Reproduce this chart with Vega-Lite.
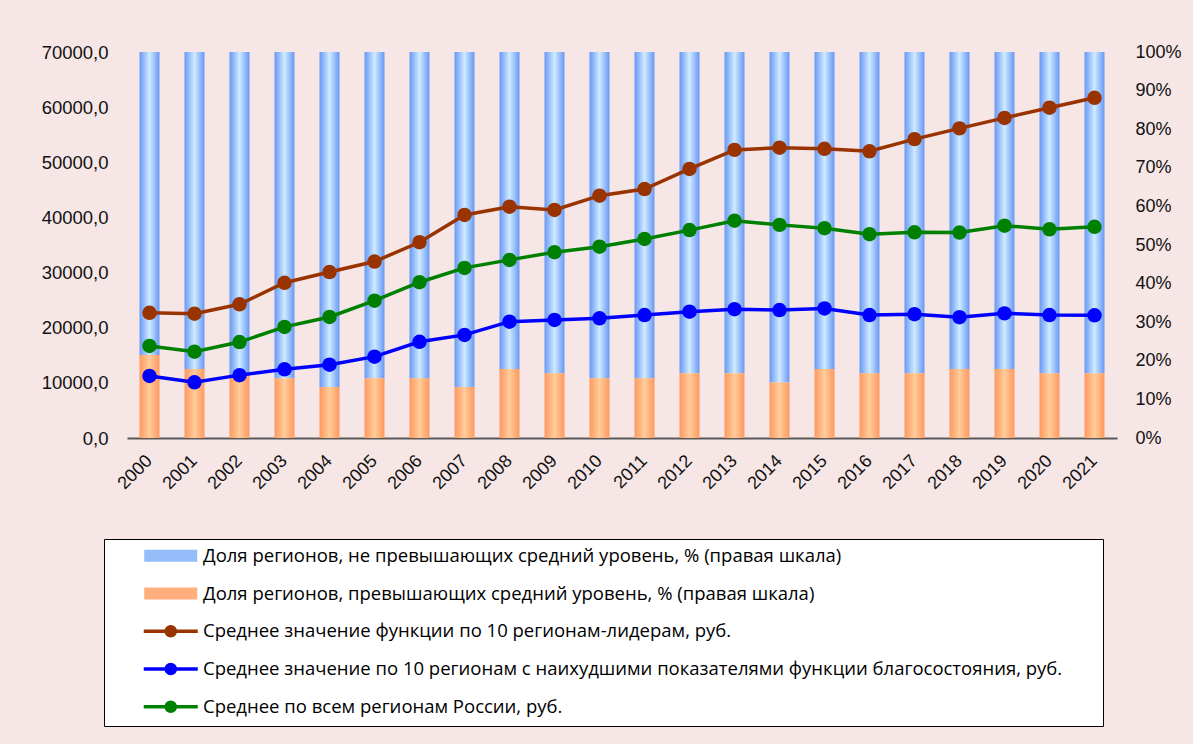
{
  "$schema": "https://vega.github.io/schema/vega-lite/v6.json",
  "width": 990,
  "height": 386,
  "autosize": "none",
  "padding": {"left": 127, "top": 52, "right": 76, "bottom": 306},
  "background": "#F6E6E6",
  "config": {
    "view": {"stroke": null},
    "font": "Liberation Sans",
    "axis": {"labelFont": "Liberation Sans", "labelColor": "#111111", "grid": false, "ticks": false, "title": null}
  },
  "datasets": {
    "bars": [
      {"year": "2000", "above": 21.5},
      {"year": "2001", "above": 17.9},
      {"year": "2002", "above": 16.0},
      {"year": "2003", "above": 15.5},
      {"year": "2004", "above": 13.2},
      {"year": "2005", "above": 15.5},
      {"year": "2006", "above": 15.5},
      {"year": "2007", "above": 13.2},
      {"year": "2008", "above": 17.9},
      {"year": "2009", "above": 16.8},
      {"year": "2010", "above": 15.5},
      {"year": "2011", "above": 15.5},
      {"year": "2012", "above": 16.8},
      {"year": "2013", "above": 16.8},
      {"year": "2014", "above": 14.4},
      {"year": "2015", "above": 17.9},
      {"year": "2016", "above": 16.8},
      {"year": "2017", "above": 16.8},
      {"year": "2018", "above": 17.9},
      {"year": "2019", "above": 17.9},
      {"year": "2020", "above": 16.8},
      {"year": "2021", "above": 16.8}
    ],
    "lines": [
      {"year": "2000", "series": "leaders", "value": 22700},
      {"year": "2001", "series": "leaders", "value": 22550},
      {"year": "2002", "series": "leaders", "value": 24250},
      {"year": "2003", "series": "leaders", "value": 28150},
      {"year": "2004", "series": "leaders", "value": 30100},
      {"year": "2005", "series": "leaders", "value": 32000},
      {"year": "2006", "series": "leaders", "value": 35500},
      {"year": "2007", "series": "leaders", "value": 40450},
      {"year": "2008", "series": "leaders", "value": 41950},
      {"year": "2009", "series": "leaders", "value": 41350},
      {"year": "2010", "series": "leaders", "value": 43950},
      {"year": "2011", "series": "leaders", "value": 45150},
      {"year": "2012", "series": "leaders", "value": 48800},
      {"year": "2013", "series": "leaders", "value": 52250},
      {"year": "2014", "series": "leaders", "value": 52650},
      {"year": "2015", "series": "leaders", "value": 52450},
      {"year": "2016", "series": "leaders", "value": 52000},
      {"year": "2017", "series": "leaders", "value": 54200},
      {"year": "2018", "series": "leaders", "value": 56150},
      {"year": "2019", "series": "leaders", "value": 58050},
      {"year": "2020", "series": "leaders", "value": 59900},
      {"year": "2021", "series": "leaders", "value": 61700},
      {"year": "2000", "series": "worst", "value": 11250},
      {"year": "2001", "series": "worst", "value": 10100},
      {"year": "2002", "series": "worst", "value": 11400},
      {"year": "2003", "series": "worst", "value": 12450},
      {"year": "2004", "series": "worst", "value": 13300},
      {"year": "2005", "series": "worst", "value": 14750},
      {"year": "2006", "series": "worst", "value": 17450},
      {"year": "2007", "series": "worst", "value": 18700},
      {"year": "2008", "series": "worst", "value": 21100},
      {"year": "2009", "series": "worst", "value": 21400},
      {"year": "2010", "series": "worst", "value": 21700},
      {"year": "2011", "series": "worst", "value": 22300},
      {"year": "2012", "series": "worst", "value": 22900},
      {"year": "2013", "series": "worst", "value": 23350},
      {"year": "2014", "series": "worst", "value": 23200},
      {"year": "2015", "series": "worst", "value": 23500},
      {"year": "2016", "series": "worst", "value": 22300},
      {"year": "2017", "series": "worst", "value": 22450},
      {"year": "2018", "series": "worst", "value": 21900},
      {"year": "2019", "series": "worst", "value": 22600},
      {"year": "2020", "series": "worst", "value": 22300},
      {"year": "2021", "series": "worst", "value": 22250},
      {"year": "2000", "series": "avg", "value": 16700},
      {"year": "2001", "series": "avg", "value": 15650},
      {"year": "2002", "series": "avg", "value": 17400},
      {"year": "2003", "series": "avg", "value": 20150},
      {"year": "2004", "series": "avg", "value": 21950},
      {"year": "2005", "series": "avg", "value": 24900},
      {"year": "2006", "series": "avg", "value": 28250},
      {"year": "2007", "series": "avg", "value": 30850},
      {"year": "2008", "series": "avg", "value": 32300},
      {"year": "2009", "series": "avg", "value": 33700},
      {"year": "2010", "series": "avg", "value": 34700},
      {"year": "2011", "series": "avg", "value": 36100},
      {"year": "2012", "series": "avg", "value": 37700},
      {"year": "2013", "series": "avg", "value": 39400},
      {"year": "2014", "series": "avg", "value": 38650},
      {"year": "2015", "series": "avg", "value": 38050},
      {"year": "2016", "series": "avg", "value": 36950},
      {"year": "2017", "series": "avg", "value": 37300},
      {"year": "2018", "series": "avg", "value": 37250},
      {"year": "2019", "series": "avg", "value": 38500},
      {"year": "2020", "series": "avg", "value": 37850},
      {"year": "2021", "series": "avg", "value": 38300}
    ]
  },
  "encoding": {
    "x": {
      "field": "year",
      "type": "ordinal",
      "scale": {"paddingInner": 0.556, "paddingOuter": 0.278},
      "axis": {
        "title": null,
        "labelAngle": -45,
        "labelAlign": "right",
        "labelBaseline": "middle",
        "labelFontSize": 18,
        "labelPadding": 20,
        "domainColor": "#595959",
        "domainWidth": 2,
        "ticks": false
      }
    }
  },
  "layer": [
    {
      "data": {"name": "bars"},
      "encoding": {
        "y": {
          "field": "above",
          "type": "quantitative",
          "scale": {"domain": [0, 100], "nice": false},
          "axis": {
            "orient": "right",
            "title": null,
            "values": [0, 10, 20, 30, 40, 50, 60, 70, 80, 90, 100],
            "labelExpr": "datum.value + '%'",
            "labelFontSize": 18,
            "labelPadding": 18,
            "domain": false,
            "ticks": false,
            "grid": false
          }
        }
      },
      "layer": [
        {
          "mark": {
            "type": "bar",
            "color": {
              "gradient": "linear", "x1": 0, "y1": 0, "x2": 1, "y2": 0,
              "stops": [
                {"offset": 0, "color": "#6797F5"},
                {"offset": 0.5, "color": "#CFEBFF"},
                {"offset": 1, "color": "#6797F5"}
              ]
            }
          },
          "encoding": {
            "y2": {"datum": 100}
          }
        },
        {
          "mark": {
            "type": "bar",
            "color": {
              "gradient": "linear", "x1": 0, "y1": 0, "x2": 1, "y2": 0,
              "stops": [
                {"offset": 0, "color": "#FF985F"},
                {"offset": 0.5, "color": "#FFCC9A"},
                {"offset": 1, "color": "#FF985F"}
              ]
            }
          }
        }
      ]
    },
    {
      "data": {"name": "lines"},
      "mark": {"type": "line", "strokeWidth": 3.5, "point": {"filled": true, "size": 210, "opacity": 1}},
      "encoding": {
        "y": {
          "field": "value",
          "type": "quantitative",
          "scale": {"domain": [0, 70000], "nice": false},
          "axis": {
            "orient": "left",
            "title": null,
            "values": [0, 10000, 20000, 30000, 40000, 50000, 60000, 70000],
            "labelExpr": "replace(format(datum.value, '.1f'), '.', ',')",
            "labelFontSize": 18.5,
            "labelPadding": 19,
            "domain": false,
            "ticks": false,
            "grid": false
          }
        },
        "color": {
          "field": "series",
          "type": "nominal",
          "scale": {
            "domain": ["below", "above", "leaders", "worst", "avg"],
            "range": ["#94BDF9", "#FFAE7C", "#993300", "#0000FF", "#008000"]
          },
          "legend": {
            "title": null,
            "orient": "none",
            "legendX": -23,
            "legendY": 487,
            "direction": "vertical",
            "fillColor": "#FFFFFF",
            "strokeColor": "#000000",
            "padding": 7.5,
            "symbolSize": 400,
            "symbolOffset": 50,
            "labelOffset": 23,
            "rowPadding": 13.75,
            "gridAlign": "all",
            "labelFont": "Open Sans",
            "labelFontSize": 18.5,
            "labelColor": "#000000",
            "labelLimit": 2000,
            "labelExpr": "(datum.value === 'below' ? 'Доля регионов, не превышающих средний уровень, % (правая шкала)' : datum.value === 'above' ? 'Доля регионов, превышающих средний уровень, % (правая шкала)' : datum.value === 'leaders' ? 'Среднее значение функции по 10 регионам-лидерам, руб.' : datum.value === 'worst' ? 'Среднее значение  по 10 регионам с наихудшими показателями функции благосостояния, руб.' : 'Среднее по всем регионам России, руб.') + '\u2800\u2800'",
            "encode": {
              "symbols": {
                "update": {
                  "shape": {"signal": "(datum.value === 'below' || datum.value === 'above') ? 'M-2.65,-0.6H2.65V0.6H-2.65Z' : 'M-2.7,0H2.7M0.45,0L0.416,0.172L0.318,0.318L0.172,0.416L0,0.45L-0.172,0.416L-0.318,0.318L-0.416,0.172L-0.45,0L-0.416,-0.172L-0.318,-0.318L-0.172,-0.416L0,-0.45L0.172,-0.416L0.318,-0.318L0.416,-0.172Z'"},
                  "strokeWidth": {"signal": "(datum.value === 'below' || datum.value === 'above') ? 0 : 3.5"},
                  "opacity": {"value": 1},
                  "fillOpacity": {"value": 1}
                }
              }
            }
          }
        }
      }
    }
  ],
  "resolve": {"scale": {"y": "independent"}}
}
